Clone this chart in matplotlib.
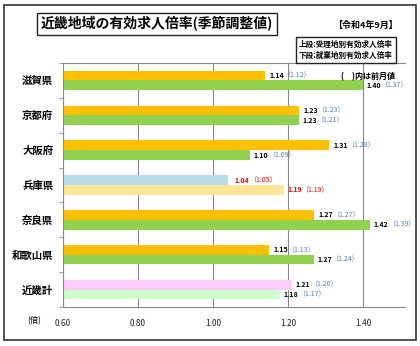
import matplotlib
matplotlib.use('Agg')
import matplotlib.pyplot as plt
from matplotlib.patches import Rectangle

plt.rcParams['font.family'] = ['Noto Sans CJK JP', 'DejaVu Sans']

prefs = ['滋賀県', '京都府', '大阪府', '兵庫県', '奈良県', '和歌山県', '近畿計']
upper = [1.14, 1.23, 1.31, 1.04, 1.27, 1.15, 1.21]        # 受理地別
upper_prev = [1.12, 1.23, 1.28, 1.05, 1.27, 1.13, 1.20]
lower = [1.40, 1.23, 1.10, 1.19, 1.42, 1.27, 1.18]        # 就業地別
lower_prev = [1.37, 1.21, 1.09, 1.19, 1.39, 1.24, 1.17]
xticks = [0.60, 0.80, 1.00, 1.20, 1.40]

up_colors = ['#FFC000'] * 3 + ['#B7DEE8'] + ['#FFC000'] * 2 + ['#FFCCFF']
lo_colors = ['#92D050'] * 3 + ['#FFE699'] + ['#92D050'] * 2 + ['#CCFFCC']
val_colors = ['#000000'] * 3 + ['#FF0000'] + ['#000000'] * 3
prev_colors = ['#4F81BD'] * 3 + ['#FF0000'] + ['#4F81BD'] * 3

fig = plt.figure(figsize=(4.2, 3.46), dpi=100)
W, H = 420, 346
def fx(x): return x / W
def fy(y): return 1 - y / H

# outer frame
fig.patches.append(Rectangle((fx(4), fy(340)), fx(412), 335 / H, transform=fig.transFigure,
                             fill=False, edgecolor='#333333', lw=1.2))

ax = fig.add_axes([fx(63), fy(307), (405 - 63) / W, (307 - 63) / H])
pos = list(range(len(prefs)))
h = 0.28
ax.barh([p - h / 2 for p in pos], upper, height=h, left=0, color=up_colors)
ax.barh([p + h / 2 for p in pos], lower, height=h, left=0, color=lo_colors)

ax.set_xlim(0.6, 1.512)
ax.set_ylim(6.5, -0.5)
ax.set_xticks(xticks)
ax.set_xticklabels([f'{t:.2f}' for t in xticks], fontsize=6, color='#222222')
ax.tick_params(axis='x', length=0, pad=9)
ax.set_yticks(pos)
ax.set_yticklabels(prefs, fontsize=7.5, fontweight='bold')
ax.set_yticks([p - 0.5 for p in pos] + [6.5], minor=True)
ax.tick_params(axis='y', which='major', length=0, pad=7)
ax.tick_params(axis='y', which='minor', length=3, color='#888888', direction='out')
ax.grid(axis='x', color='#888888', lw=0.8)
ax.set_axisbelow(True)
ax.spines['right'].set_visible(False)
for s in ['left', 'bottom', 'top']:
    ax.spines[s].set_color('#888888')
    ax.spines[s].set_linewidth(0.8)

def label(x, y, v, pv, c1, c2, dx):
    ax.annotate(f'{v:.2f}', (x, y), xytext=(dx, 0), textcoords='offset points',
                ha='left', va='center', fontsize=5, fontweight='bold', color=c1)
    ax.annotate(f'（{pv:.2f}）', (x, y), xytext=(dx + 10, 0), textcoords='offset points',
                ha='left', va='center', fontsize=5, color=c2)

for i in pos:
    label(upper[i], i - h / 2, upper[i], upper_prev[i], val_colors[i], prev_colors[i], 5 if i == 3 else 3)
    label(lower[i], i + h / 2, lower[i], lower_prev[i], val_colors[i], prev_colors[i], 2 if i == 3 else 2.5)

# title box
fig.text(fx(157), fy(24), '近畿地域の有効求人倍率(季節調整値)', ha='center', va='center',
         fontsize=10, fontweight='bold',
         bbox=dict(boxstyle='square,pad=0.25', fc='white', ec='#222222', lw=1))
fig.text(fx(365), fy(25), '【令和4年9月】', ha='center', va='center', fontsize=6.5, fontweight='bold')
fig.text(fx(346), fy(50), '上段:受理地別有効求人倍率\n下段:就業地別有効求人倍率', ha='center', va='center',
         fontsize=5.5, fontweight='bold', linespacing=1.3,
         bbox=dict(boxstyle='square,pad=0.35', fc='white', ec='#222222', lw=1))
fig.text(fx(368), fy(77), '(　)内は前月値', ha='center', va='center', fontsize=5.8, fontweight='bold')
fig.text(fx(34), fy(321), '(倍)', ha='center', va='center', fontsize=6)

fig.savefig('out.png', dpi=100)
